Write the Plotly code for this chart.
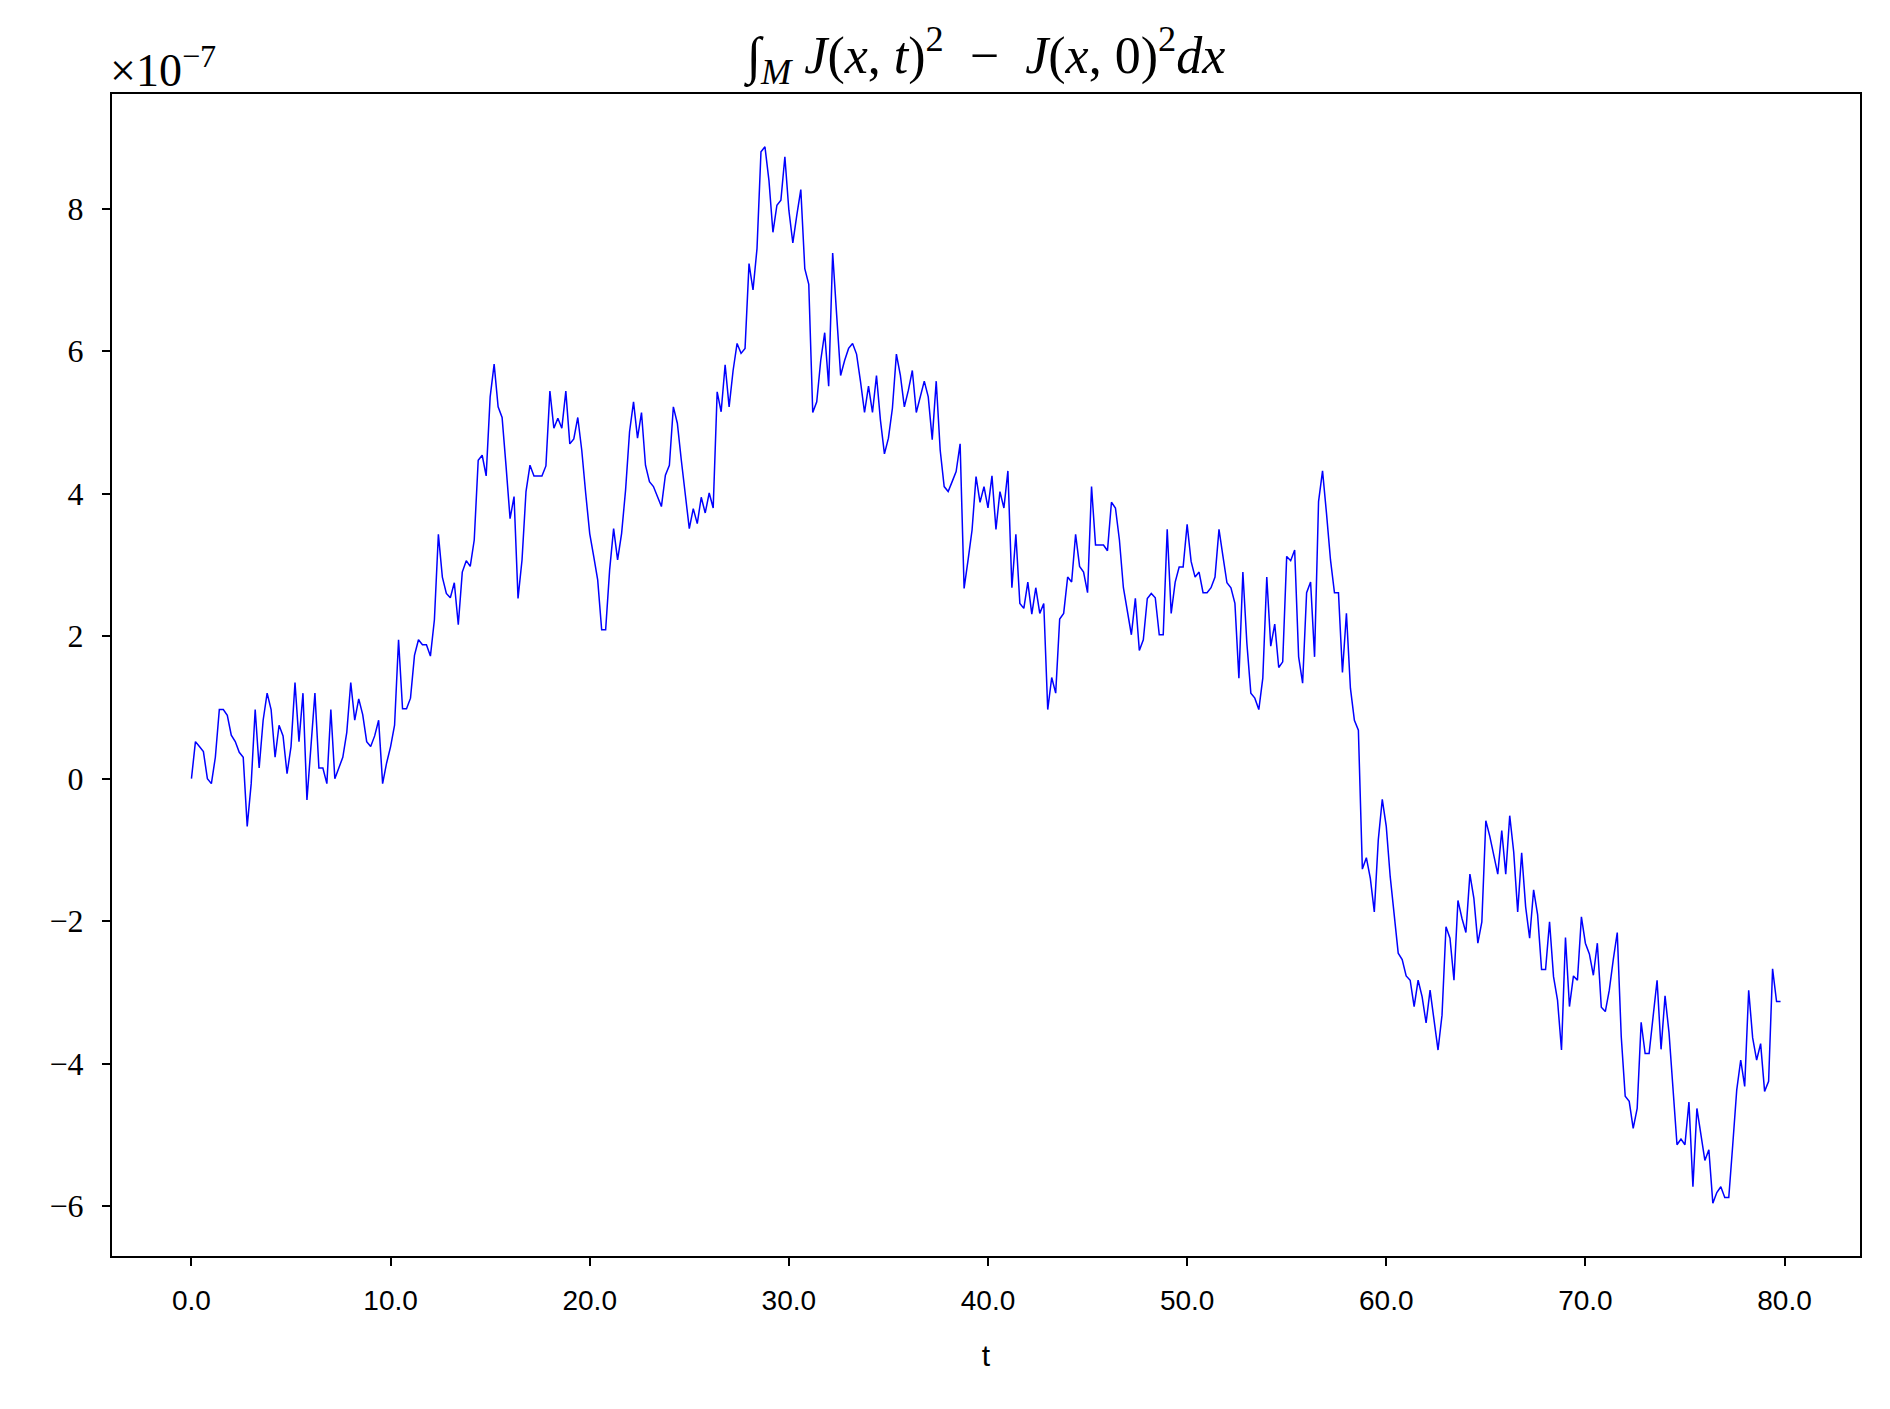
import plotly.graph_objects as go

# Values of  ∫_M J(x,t)^2 - J(x,0)^2 dx  in units of 1e-7, sampled every dt = 0.2
dt = 0.2
seg_t00_10 = [0.00, 0.52, 0.45, 0.38, 0.00, -0.07, 0.30, 0.97, 0.97, 0.89,
              0.61, 0.52, 0.37, 0.30, -0.67, -0.07, 0.97, 0.15, 0.82, 1.20,
              0.97, 0.30, 0.75, 0.60, 0.07, 0.45, 1.35, 0.52, 1.20, -0.30,
              0.45, 1.20, 0.15, 0.15, -0.07, 0.97, 0.00, 0.15, 0.30, 0.65,
              1.35, 0.82, 1.12, 0.90, 0.52, 0.45, 0.60, 0.82, -0.07, 0.22]
seg_t10_20 = [0.45, 0.75, 1.95, 0.98, 0.98, 1.13, 1.73, 1.95, 1.88, 1.88,
              1.72, 2.23, 3.43, 2.83, 2.60, 2.54, 2.75, 2.16, 2.90, 3.06,
              2.98, 3.35, 4.47, 4.54, 4.25, 5.36, 5.82, 5.22, 5.07, 4.38,
              3.65, 3.96, 2.53, 3.07, 4.03, 4.40, 4.25, 4.25, 4.25, 4.39,
              5.44, 4.92, 5.06, 4.92, 5.44, 4.70, 4.77, 5.07, 4.61, 4.00]
seg_t20_30 = [3.44, 3.12, 2.79, 2.09, 2.09, 2.93, 3.51, 3.07, 3.44, 4.05,
              4.87, 5.29, 4.78, 5.14, 4.40, 4.17, 4.10, 3.96, 3.82, 4.26,
              4.40, 5.22, 4.99, 4.47, 3.96, 3.51, 3.79, 3.58, 3.95, 3.73,
              4.01, 3.80, 5.43, 5.15, 5.81, 5.22, 5.73, 6.11, 5.97, 6.04,
              7.23, 6.86, 7.44, 8.80, 8.87, 8.40, 7.67, 8.05, 8.12, 8.73]
seg_t30_40 = [7.98, 7.52, 7.91, 8.27, 7.16, 6.94, 5.14, 5.29, 5.87, 6.26,
              5.51, 7.38, 6.51, 5.66, 5.87, 6.04, 6.11, 5.96, 5.57, 5.14,
              5.51, 5.14, 5.66, 5.03, 4.56, 4.78, 5.20, 5.96, 5.66, 5.22,
              5.45, 5.73, 5.14, 5.38, 5.58, 5.36, 4.76, 5.58, 4.61, 4.10,
              4.03, 4.17, 4.31, 4.70, 2.67, 3.07, 3.49, 4.24, 3.88, 4.10]
seg_t40_50 = [3.80, 4.25, 3.50, 4.03, 3.80, 4.32, 2.68, 3.43, 2.46, 2.39,
              2.76, 2.31, 2.68, 2.32, 2.46, 0.97, 1.42, 1.20, 2.24, 2.32,
              2.83, 2.76, 3.43, 2.98, 2.90, 2.61, 4.10, 3.28, 3.28, 3.28,
              3.20, 3.88, 3.80, 3.35, 2.68, 2.37, 2.02, 2.53, 1.80, 1.95,
              2.53, 2.60, 2.54, 2.02, 2.02, 3.50, 2.32, 2.76, 2.97, 2.97]
seg_t50_60 = [3.57, 3.05, 2.83, 2.90, 2.61, 2.61, 2.68, 2.83, 3.50, 3.12,
              2.75, 2.68, 2.46, 1.41, 2.90, 1.90, 1.20, 1.13, 0.97, 1.41,
              2.83, 1.86, 2.17, 1.56, 1.64, 3.12, 3.06, 3.21, 1.71, 1.34,
              2.61, 2.76, 1.71, 3.89, 4.32, 3.72, 3.07, 2.61, 2.61, 1.49,
              2.32, 1.27, 0.82, 0.68, -1.27, -1.11, -1.40, -1.87, -0.86, -0.29]
seg_t60_70 = [-0.67, -1.38, -1.94, -2.45, -2.54, -2.77, -2.83, -3.20, -2.83, -3.06,
              -3.43, -2.97, -3.39, -3.81, -3.32, -2.08, -2.24, -2.83, -1.71, -1.96,
              -2.16, -1.34, -1.68, -2.31, -2.01, -0.59, -0.81, -1.07, -1.34, -0.73,
              -1.34, -0.52, -1.03, -1.87, -1.04, -1.80, -2.24, -1.56, -1.91, -2.68,
              -2.68, -2.01, -2.78, -3.11, -3.81, -2.23, -3.20, -2.77, -2.83, -1.94]
seg_t70_80 = [-2.31, -2.46, -2.76, -2.31, -3.21, -3.27, -2.97, -2.54, -2.16, -3.62,
              -4.46, -4.53, -4.91, -4.63, -3.42, -3.86, -3.86, -3.34, -2.83, -3.80,
              -3.05, -3.57, -4.37, -5.14, -5.06, -5.14, -4.54, -5.73, -4.63, -5.00,
              -5.36, -5.21, -5.96, -5.81, -5.73, -5.88, -5.88, -5.14, -4.37, -3.95,
              -4.32, -2.97, -3.64, -3.95, -3.72, -4.39, -4.25, -2.67, -3.13, -3.13]

x_ticks = [0, 10, 20, 30, 40, 50, 60, 70, 80]
y_ticks = [-6, -4, -2, 0, 2, 4, 6, 8]

values = (seg_t00_10 + seg_t10_20 + seg_t20_30 + seg_t30_40 +
          seg_t40_50 + seg_t50_60 + seg_t60_70 + seg_t70_80)
t = [round(i * dt, 1) for i in range(len(values))]

SERIF = "Liberation Serif, DejaVu Serif, serif"
SANS = "Liberation Sans, Arial, sans-serif"

fig = go.Figure()
fig.add_trace(go.Scatter(x=t, y=values, mode="lines",
                         line=dict(color="#0000ff", width=1.5),
                         showlegend=False, hoverinfo="x+y"))

xmin, xmax = min(t), max(t)
ymin, ymax = min(values), max(values)
xpad = 0.05 * (xmax - xmin)
ypad = 0.05 * (ymax - ymin)

fig.update_layout(
    width=1890, height=1409,
    margin=dict(l=104, r=38, t=86, b=161),
    paper_bgcolor="white", plot_bgcolor="white",
    title=dict(
        text="∫<sub><i>M</i></sub> <i>J</i>(<i>x</i>, <i>t</i>)<sup>2</sup>  −  "
             "<i>J</i>(<i>x</i>, 0)<sup>2</sup><i>dx</i>",
        x=0.5, xref="paper", xanchor="center",
        y=1 - 47 / 1409, yref="container", yanchor="middle",
        font=dict(family=SERIF, size=52, color="black")),
    xaxis=dict(
        range=[xmin - xpad, xmax + xpad],
        tickmode="array", tickvals=x_ticks,
        ticktext=[f"{v:.1f}" for v in x_ticks],
        ticks="outside", ticklen=8, tickwidth=1.5, tickcolor="black",
        showline=True, linecolor="black", linewidth=2, mirror=True,
        showgrid=False, zeroline=False, ticklabelstandoff=10,
        tickfont=dict(family=SANS, size=28, color="black"),
        title=dict(text="t", font=dict(family=SANS, size=30, color="black"),
                   standoff=30),
    ),
    yaxis=dict(
        range=[ymin - ypad, ymax + ypad],
        tickmode="array", tickvals=y_ticks,
        ticktext=[str(v).replace("-", "−") for v in y_ticks],
        ticks="outside", ticklen=8, tickwidth=1.5, tickcolor="black",
        showline=True, linecolor="black", linewidth=2, mirror=True,
        showgrid=False, zeroline=False, ticklabelstandoff=12,
        tickfont=dict(family=SERIF, size=32, color="black"),
    ),
    annotations=[dict(
        text="×10<sup>−7</sup>", xref="paper", yref="paper",
        x=0, y=1, xanchor="left", yanchor="bottom", yshift=-4, xshift=-4,
        showarrow=False, font=dict(family=SERIF, size=46, color="black"))],
)

fig.write_html("out.html")
